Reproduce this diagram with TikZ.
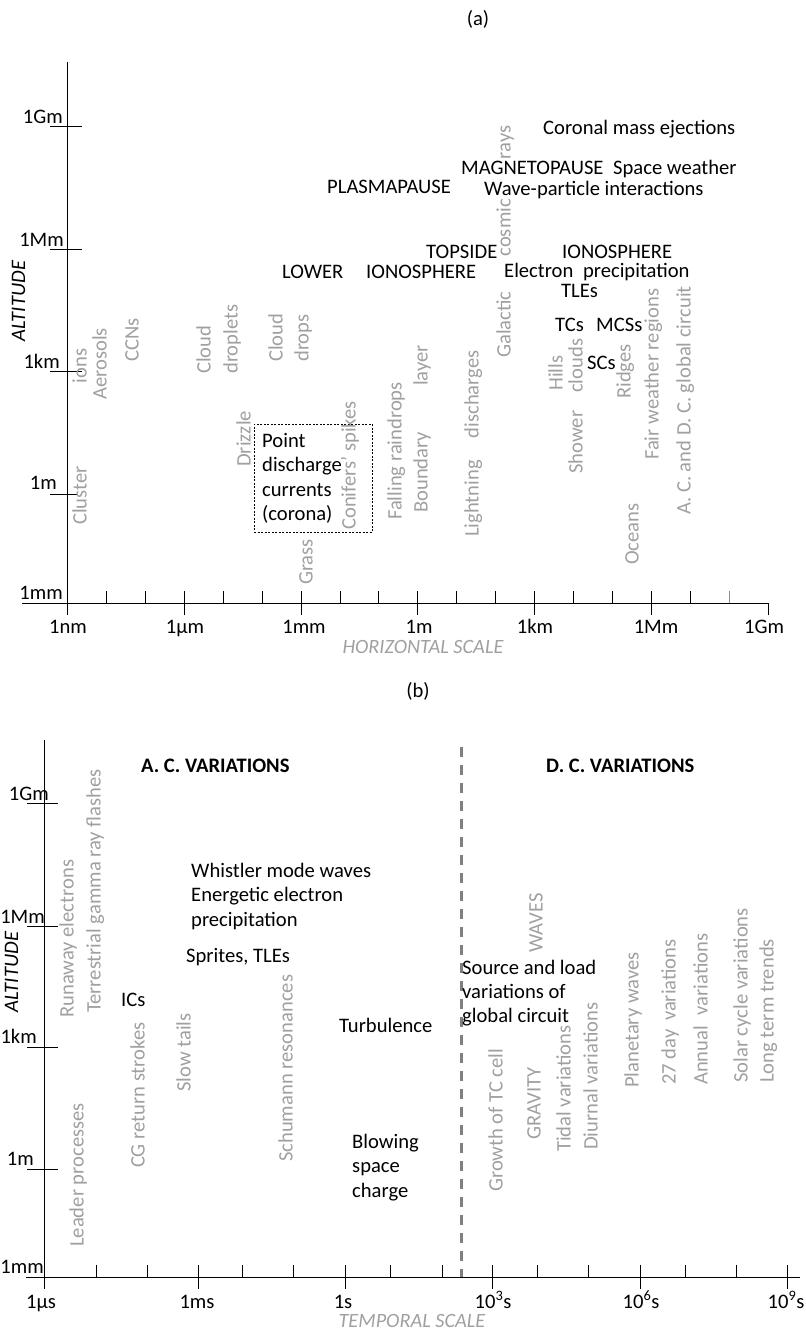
\documentclass[tikz,border=0pt]{standalone}
\usepackage{fontspec}
\setmainfont{Carlito}
\definecolor{greytxt}{RGB}{160,160,160}
\definecolor{dashgrey}{RGB}{128,128,128}
\definecolor{tickblue}{RGB}{91,155,213}
\newcommand{\stk}[2][24.5pt]{\vtop{\baselineskip=#1\relax\lineskiplimit=-20pt\halign{##\hfil\cr#2\crcr}}}
\tikzset{
  txt/.style={font=\fontsize{20.6}{24}\selectfont, inner sep=0pt, anchor=base},
  lftxt/.style={txt, anchor=base west},
  rgtxt/.style={txt, anchor=base east},
  boldtxt/.style={lftxt, font=\fontsize{20.6}{24}\selectfont\bfseries},
  gry/.style={txt, text=greytxt, rotate=90, anchor=base west},
  axisline/.style={line width=1pt, black},
  tickline/.style={line width=1pt, black},
  scalelbl/.style={font=\fontsize{20.3}{22}\selectfont\itshape, text=greytxt, inner sep=0pt, anchor=base},
  alt/.style={font=\fontsize{20.6}{24}\selectfont\itshape, inner sep=0pt, rotate=90, anchor=base},
  pdcbox/.style={draw, dash pattern=on 2pt off 1.5pt, line width=0.9pt, inner sep=0pt},
  vdash/.style={draw=dashgrey, line width=3pt, dash pattern=on 10pt off 8pt},
}
\begin{document}
\begin{tikzpicture}[x=1pt,y=-1pt]
\useasboundingbox (0,0) rectangle (806,1331);
% ================= (a) =================
\node[txt] (ta) at (478,25) {(a)};
% axes
\coordinate (ay0) at (67.5,62);
\coordinate (ay1) at (67.5,615);
\coordinate (ax0) at (22,603);
\coordinate (ax1) at (768,603);
\draw[axisline] (ay0) -- (ay1);
\draw[axisline] (ax0) -- (ax1);
% y ticks
\foreach \yy in {126,249,371} {\draw[tickline] (50,\yy) -- (82,\yy);}
\draw[tickline] (50,494) -- (77,494);
% x ticks
\foreach \xx in {184.25,301,417.75,534.5,651.25} {\draw[tickline] (\xx,591) -- (\xx,615);}
\draw[tickline] (768,603) -- (768,615);
\foreach \xx in {106.4,145.3,223.2,262.1,340,378.9,456.7,495.6,573.4,612.3,690.2} {\draw[tickline] (\xx,591) -- (\xx,603);}
\draw[line width=1pt, tickblue] (729,591) -- (729,603);
% axis labels
\node[rgtxt] (a1Gm) at (63,123) {1Gm};
\node[rgtxt] (a1Mm) at (64,246) {1Mm};
\node[rgtxt] (a1km) at (60,368) {1km};
\node[rgtxt] (a1m) at (57,489) {1m};
\node[rgtxt] (a1mm) at (63,599) {1mm};
\node[txt] (a1nm) at (68,633) {1nm};
\node[txt] (a1um) at (185,633) {1µm};
\node[txt] (ax1mm) at (304,633) {1mm};
\node[txt] (ax1m) at (419,633) {1m};
\node[txt] (ax1km) at (535,633) {1km};
\node[txt] (ax1Mm) at (656,633) {1Mm};
\node[txt] (ax1Gm) at (764,633) {1Gm};
\node[scalelbl] (hscale) at (423,653) {HORIZONTAL SCALE};
\node[alt] (altA) at (25,301) {ALTITUDE};
% black labels
\node[lftxt] (plasma) at (327,193) {PLASMAPAUSE};
\node[lftxt] (magneto) at (461,174) {MAGNETOPAUSE};
\node[lftxt] (spacew) at (613,174) {Space weather};
\node[lftxt] (wavep) at (484,195) {Wave-particle interactions};
\node[lftxt] (cme) at (543,134) {Coronal mass ejections};
\node[lftxt] (lower) at (282,278) {LOWER};
\node[lftxt] (iono1) at (366,278) {IONOSPHERE};
\node[lftxt] (topside) at (426,258) {TOPSIDE};
\node[lftxt] (iono2) at (562,258) {IONOSPHERE};
\node[lftxt] (eprec) at (504,277) {Electron\hspace{5pt} precipitation};
\node[lftxt] (tles) at (561,297) {TLEs};
\node[lftxt] (tcs) at (555,331) {TCs};
\node[lftxt] (mcss) at (596,331) {MCSs};
\node[lftxt] (scs) at (587,369) {SCs};
% dashed box
\node[pdcbox, minimum width=118pt, minimum height=108pt] (pdcframe) at (313,478) {};
\node[lftxt] (pdc) at (262,447) {\stk{Point\cr discharge\cr currents\cr (corona)}};
% grey rotated labels
\node[gry] (cluster) at (86.5,525) {Cluster\hspace{83pt}ions};
\node[gry] (aerosols) at (106.5,400) {Aerosols};
\node[gry] (ccns) at (138.5,362) {CCNs};
\node[gry] (cdroplets) at (210.5,374) {\stk[27pt]{Cloud\cr droplets}};
\node[gry] (cdrops) at (282.5,362) {\stk[26pt]{Cloud\cr drops}};
\node[gry] (drizzle) at (250.5,467) {Drizzle};
\node[gry] (conifers) at (355.5,530) {Conifers’ spikes};
\node[gry] (grass) at (312.5,585) {Grass};
\node[gry] (falling) at (401.5,520) {Falling raindrops};
\node[gry] (boundary) at (427.5,513) {Boundary\hspace{46pt}layer};
\node[gry] (lightning) at (478.5,537) {Lightning\hspace{22pt}discharges};
\node[gry] (galactic) at (510.5,358) {Galactic\hspace{35pt}cosmic\hspace{40pt}rays};
\node[gry] (hills) at (562.5,391) {Hills};
\node[gry] (shower) at (582.5,474) {Shower\hspace{18pt}clouds};
\node[gry] (ridges) at (630.5,399) {Ridges};
\node[gry] (oceans) at (638.5,565) {Oceans};
\node[gry] (fairw) at (658.5,460) {Fair weather regions};
\node[gry] (acdc) at (690.5,515) {A. C. and D. C. global circuit};
% ================= (b) =================
\node[txt] (tb) at (418,697) {(b)};
\coordinate (by0) at (44.3,740);
\coordinate (by1) at (44.3,1289);
\coordinate (bx0) at (26,1277);
\coordinate (bx1) at (800,1277);
\draw[axisline] (by0) -- (by1);
\draw[axisline] (bx0) -- (bx1);
\foreach \yy in {803,926,1047,1169} {\draw[tickline] (27,\yy) -- (58,\yy);}
\foreach \xx in {198.3,345.7,492.7,640,787.3} {\draw[tickline] (\xx,1265) -- (\xx,1289);}
\foreach \xx in {96,147,242,293,390,442,537,588,685,736} {\draw[tickline] (\xx,1265) -- (\xx,1277);}
\coordinate (dv0) at (461,747);
\coordinate (dv1) at (461,1277);
\draw[vdash] (dv0) -- (dv1);
\node[rgtxt] (b1Gm) at (49,800) {1Gm};
\node[rgtxt] (b1Mm) at (45,923) {1Mm};
\node[rgtxt] (b1km) at (37,1043) {1km};
\node[rgtxt] (b1m) at (34,1165) {1m};
\node[rgtxt] (b1mm) at (44,1273) {1mm};
\node[txt] (b1us) at (41,1308) {1µs};
\node[txt] (b1ms) at (197,1308) {1ms};
\node[txt] (b1s) at (343,1308) {1s};
\node[txt] (b1e3) at (493,1308) {10\textsuperscript{3}s};
\node[txt] (b1e6) at (641,1308) {10\textsuperscript{6}s};
\node[txt] (b1e9) at (786,1308) {10\textsuperscript{9}s};
\node[scalelbl] (tscale) at (412,1327) {TEMPORAL SCALE};
\node[alt] (altB) at (18,972) {ALTITUDE};
\node[boldtxt] (acvar) at (141,772) {A. C. VARIATIONS};
\node[boldtxt] (dcvar) at (546,772) {D. C. VARIATIONS};
\node[lftxt] (whistler) at (191,877) {\stk{Whistler mode waves\cr Energetic electron\cr precipitation}};
\node[lftxt] (sprites) at (186,962) {Sprites, TLEs};
\node[lftxt] (ics) at (121,1006) {ICs};
\node[lftxt] (turb) at (339,1032) {Turbulence};
\node[lftxt] (blowing) at (352,1148) {\stk{Blowing\cr space\cr charge}};
\node[lftxt] (source) at (462,974) {\stk[24pt]{Source and load\cr variations of\cr global circuit}};
\node[gry] (runaway) at (73.5,1018) {Runaway electrons};
\node[gry] (tgf) at (100.5,1013) {Terrestrial gamma ray flashes};
\node[gry] (leader) at (83.5,1247) {Leader processes};
\node[gry] (cgrs) at (144.5,1168) {CG return strokes};
\node[gry] (slowt) at (190.5,1092) {Slow tails};
\node[gry] (schumann) at (292.5,1162) {Schumann resonances};
\node[gry] (waves) at (542.5,953) {WAVES};
\node[gry] (growth) at (502.5,1192) {Growth of TC cell};
\node[gry] (gravity) at (540.5,1140) {GRAVITY};
\node[gry] (tidal) at (570.5,1152) {Tidal variations};
\node[gry] (diurnal) at (597.5,1150) {Diurnal variations};
\node[gry] (planetary) at (638.5,1088) {Planetary waves};
\node[gry] (day27) at (675.5,1085) {27 day\hspace{4pt} variations};
\node[gry] (annual) at (707.5,1085) {Annual\hspace{6pt} variations};
\node[gry] (solar) at (747.5,1083) {Solar cycle variations};
\node[gry] (longterm) at (773.5,1083) {Long term trends};
\end{tikzpicture}
\end{document}
